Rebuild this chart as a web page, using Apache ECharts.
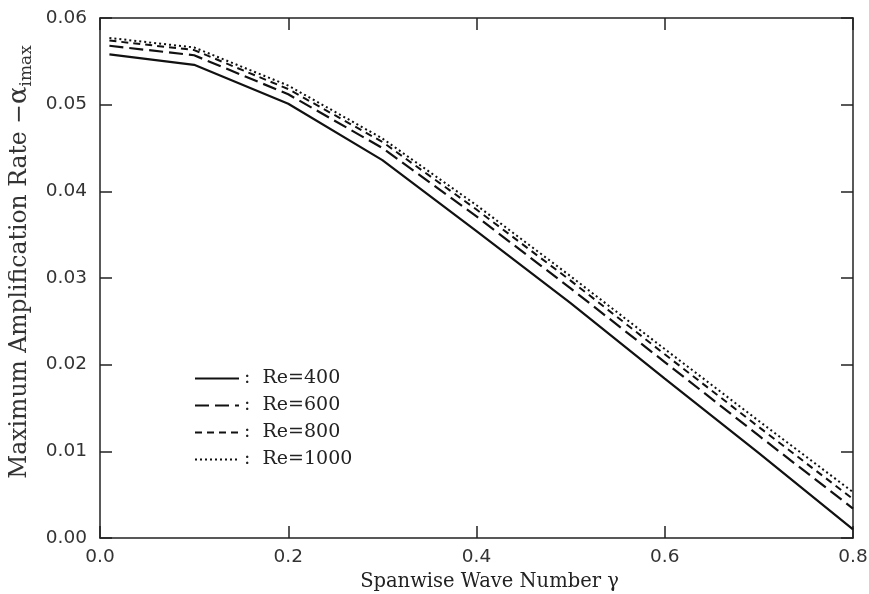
<!DOCTYPE html>
<html>
<head>
<meta charset="utf-8">
<script src="https://cdn.jsdelivr.net/npm/echarts@6/dist/echarts.min.js"></script>
<style>
  html, body { margin: 0; padding: 0; background: #fff; }
</style>
</head>
<body>
<div id="chart" style="width: 869px; height: 594px;"></div>
<script>
// spanwise wave number gamma
const gamma = [0.01, 0.1, 0.2, 0.3, 0.4, 0.5, 0.6, 0.7, 0.8];
// maximum amplification rate for each Reynolds number
const re400 = [0.0558, 0.0546, 0.0501, 0.0436, 0.0354, 0.0271, 0.0184, 0.0098, 0.0010];
const re600 = [0.0568, 0.0557, 0.0512, 0.0450, 0.0371, 0.0288, 0.0203, 0.0118, 0.0034];
const re800 = [0.0574, 0.0563, 0.0518, 0.0457, 0.0379, 0.0297, 0.0212, 0.0128, 0.0045];
const re1000 = [0.0577, 0.0566, 0.0522, 0.0461, 0.0384, 0.0302, 0.0218, 0.0135, 0.0053];
const seriesNames = ['Re=400', 'Re=600', 'Re=800', 'Re=1000'];

const pairs = (ys) => gamma.map((g, i) => [g, ys[i]]);

let myChart = echarts.init(document.getElementById('chart'));

const tickFont = { fontFamily: 'DejaVu Sans', fontSize: 18.5, color: '#333' };
const serif = 'DejaVu Serif';
const axisLine = { onZero: false, lineStyle: { color: '#222', width: 1.5 } };
const axisTick = { inside: true, length: 12, lineStyle: { color: '#222', width: 1.5 } };

myChart.setOption({
    animation: false,
    grid: { left: 100, right: 16, top: 18, bottom: 56, outerBoundsMode: 'none', containLabel: false },
    legend: {
        orient: 'vertical',
        left: 189,
        top: 364,
        itemWidth: 44,
        itemHeight: 14,
        itemGap: 8,
        itemTextGap: 10,
        data: seriesNames,
        formatter: ':  {name}',
        itemStyle: { opacity: 0 },
        textStyle: { fontFamily: serif, fontSize: 19, color: '#222' }
    },
    xAxis: [
        {
            type: 'value', min: 0, max: 0.8, interval: 0.2,
            name: 'Spanwise Wave Number γ',
            nameLocation: 'middle', nameGap: 30,
            nameTextStyle: { fontFamily: serif, fontSize: 19.5, color: '#222', padding: [0, 0, 0, 26] },
            axisLine: axisLine,
            axisTick: axisTick,
            axisLabel: Object.assign({ margin: 10, formatter: v => v.toFixed(1) }, tickFont),
            splitLine: { show: false }
        },
        {
            type: 'value', position: 'top', min: 0, max: 0.8, interval: 0.2,
            axisLine: axisLine,
            axisTick: axisTick,
            axisLabel: { show: false },
            splitLine: { show: false }
        }
    ],
    yAxis: [
        {
            type: 'value', min: 0, max: 0.06, interval: 0.01,
            name: 'Maximum Amplification Rate −{a|α}{s|imax}',
            nameLocation: 'middle', nameGap: 64,
            nameTextStyle: {
                fontFamily: serif, fontSize: 23.5, color: '#333',
                padding: [0, 0, 0, 32],
                rich: {
                    a: { fontFamily: serif, fontSize: 26, color: '#333' },
                    s: { fontFamily: serif, fontSize: 17, color: '#333', padding: [14, 0, 0, 0] }
                }
            },
            axisLine: axisLine,
            axisTick: axisTick,
            axisLabel: Object.assign({ margin: 13, formatter: v => v.toFixed(2) }, tickFont),
            splitLine: { show: false }
        },
        {
            type: 'value', position: 'right', min: 0, max: 0.06, interval: 0.01,
            axisLine: axisLine,
            axisTick: axisTick,
            axisLabel: { show: false },
            splitLine: { show: false }
        }
    ],
    series: [
        {
            name: seriesNames[0], type: 'line', data: pairs(re400), symbol: 'none',
            lineStyle: { color: '#111', width: 2.2, type: 'solid' },
            itemStyle: { color: '#111' }
        },
        {
            name: seriesNames[1], type: 'line', data: pairs(re600), symbol: 'none',
            lineStyle: { color: '#111', width: 2.2, type: [14, 6] },
            itemStyle: { color: '#111' }
        },
        {
            name: seriesNames[2], type: 'line', data: pairs(re800), symbol: 'none',
            lineStyle: { color: '#111', width: 2, type: [7, 5] },
            itemStyle: { color: '#111' }
        },
        {
            name: seriesNames[3], type: 'line', data: pairs(re1000), symbol: 'none',
            lineStyle: { color: '#111', width: 2, type: [2, 3] },
            itemStyle: { color: '#111' }
        }
    ]
});
</script>
</body>
</html>
